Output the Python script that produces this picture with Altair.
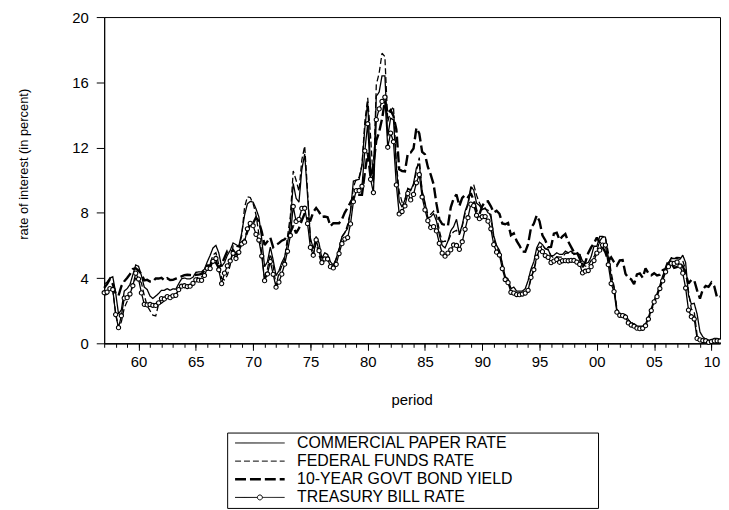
import altair as alt
import pandas as pd

# Quarterly observations, 1957Q1 .. 2010Q4
START_YEAR = 1957

commercial_paper = [
    3.63, 3.75, 4.00, 4.08,  3.10, 1.80, 2.05, 3.20,  3.35, 3.60, 4.20, 4.80,
    4.72, 4.15, 3.45, 3.30,  2.90, 2.75, 2.90, 3.05,  3.25, 3.25, 3.35, 3.25,
    3.34, 3.32, 3.65, 3.95,  4.00, 3.95, 3.95, 4.05,  4.35, 4.38, 4.38, 4.55,
    5.00, 5.40, 5.85, 6.00,  5.55, 4.70, 4.95, 5.40,  5.70, 6.15, 6.05, 5.95,
    6.75, 7.85, 8.55, 8.70,  8.65, 8.25, 7.75, 6.40,  4.70, 5.00, 5.90, 5.10,
    4.15, 4.45, 4.95, 5.30,  6.10, 7.40, 9.80, 8.90,  8.65, 10.65, 11.60, 9.05,
    6.45, 5.80, 6.55, 6.15,  5.20, 5.55, 5.45, 5.00,  4.80, 5.20, 5.75, 6.55,
    6.80, 7.05, 8.10, 9.95,  10.00, 10.05, 10.90, 13.20,  14.80, 10.70, 9.95, 15.15,
    15.40, 16.40, 16.40, 12.70,  13.80, 13.70, 10.90, 8.70,  8.35, 8.80, 9.50, 9.35,
    9.80, 10.75, 11.00, 9.35,  8.65, 7.70, 7.75, 7.95,  7.50, 6.65, 6.00, 5.85,
    6.25, 6.90, 7.15, 7.60,  6.70, 7.25, 8.10, 8.60,  9.60, 9.40, 8.60, 8.45,
    8.20, 8.30, 8.00, 7.90,  6.60, 6.00, 5.70, 4.90,  4.10, 3.95, 3.35, 3.45,
    3.20, 3.20, 3.20, 3.35,  3.85, 4.55, 5.00, 5.85,  6.20, 6.05, 5.80, 5.75,
    5.35, 5.40, 5.55, 5.45,  5.45, 5.65, 5.55, 5.65,  5.45, 5.50, 5.45, 5.05,
    4.90, 4.95, 5.30, 5.95,  5.95, 6.55, 6.55, 6.50,  5.25, 4.05, 3.40, 2.05,
    1.75, 1.80, 1.75, 1.45,  1.20, 1.20, 1.05, 1.05,  1.05, 1.20, 1.60, 2.15,
    2.65, 3.05, 3.55, 4.15,  4.55, 4.95, 5.20, 5.20,  5.20, 5.15, 5.40, 4.95,
    2.95, 2.40, 2.45, 1.80,  0.70, 0.40, 0.25, 0.20,  0.20, 0.30, 0.30, 0.25,
]

federal_funds = [
    2.96, 3.00, 3.23, 3.25,  1.86, 0.94, 1.32, 2.16,  2.57, 3.08, 3.58, 3.99,
    3.93, 3.70, 2.94, 2.30,  2.00, 1.73, 1.68, 2.40,  2.46, 2.61, 2.85, 2.92,
    2.97, 2.96, 3.33, 3.45,  3.46, 3.49, 3.46, 3.58,  3.97, 4.08, 4.07, 4.17,
    4.56, 4.91, 5.41, 5.56,  4.82, 3.99, 3.89, 4.17,  4.79, 5.98, 5.94, 5.92,
    6.57, 8.33, 8.98, 8.94,  8.57, 7.88, 6.70, 5.57,  3.86, 4.56, 5.47, 4.75,
    3.54, 4.30, 4.74, 5.14,  6.54, 7.82, 10.56, 10.00,  9.32, 11.25, 12.09, 9.35,
    6.30, 5.42, 6.16, 5.41,  4.83, 5.20, 5.28, 4.87,  4.66, 5.16, 5.82, 6.51,
    6.76, 7.28, 8.10, 9.58,  10.07, 10.18, 10.95, 13.58,  15.05, 12.69, 9.84, 15.85,
    16.57, 17.78, 17.58, 13.59,  14.23, 14.51, 11.01, 9.29,  8.65, 8.80, 9.46, 9.43,
    9.69, 10.56, 11.39, 9.27,  8.48, 7.92, 7.90, 8.10,  7.83, 6.92, 6.21, 6.27,
    6.22, 6.65, 6.84, 6.92,  6.66, 7.16, 7.98, 8.47,  9.44, 9.73, 9.08, 8.61,
    8.25, 8.24, 8.16, 7.74,  6.43, 5.86, 5.64, 4.82,  4.02, 3.77, 3.26, 3.04,
    3.04, 3.00, 3.06, 2.99,  3.21, 3.94, 4.49, 5.17,  5.81, 6.02, 5.80, 5.72,
    5.36, 5.24, 5.31, 5.28,  5.28, 5.52, 5.53, 5.51,  5.52, 5.50, 5.53, 4.86,
    4.73, 4.75, 5.09, 5.31,  5.68, 6.27, 6.52, 6.47,  5.59, 4.33, 3.50, 2.13,
    1.73, 1.75, 1.74, 1.44,  1.25, 1.25, 1.02, 1.00,  1.00, 1.01, 1.43, 1.95,
    2.47, 2.94, 3.46, 3.98,  4.46, 4.91, 5.25, 5.25,  5.26, 5.25, 5.07, 4.50,
    3.18, 2.09, 1.94, 0.51,  0.18, 0.18, 0.16, 0.12,  0.13, 0.19, 0.19, 0.19,
]

govt_bond_10y = [
    3.40, 3.63, 3.93, 3.63,  3.04, 2.92, 3.50, 3.80,  4.00, 4.24, 4.55, 4.60,
    4.46, 4.25, 3.86, 3.89,  3.79, 3.79, 3.98, 3.97,  4.02, 3.87, 3.99, 3.88,
    3.89, 3.96, 4.02, 4.10,  4.18, 4.20, 4.19, 4.17,  4.20, 4.21, 4.25, 4.47,
    4.77, 4.78, 5.14, 4.94,  4.63, 4.85, 5.25, 5.66,  5.59, 5.71, 5.46, 5.77,
    6.18, 6.35, 6.86, 7.30,  7.37, 7.71, 7.46, 6.85,  6.02, 6.25, 6.48, 5.89,
    6.03, 6.14, 6.29, 6.37,  6.60, 6.81, 7.21, 6.75,  7.05, 7.54, 7.96, 7.67,
    7.54, 8.05, 8.30, 8.06,  7.75, 7.77, 7.73, 7.19,  7.36, 7.37, 7.36, 7.60,
    8.01, 8.32, 8.64, 8.95,  9.11, 9.11, 9.10, 10.45,  11.69, 10.18, 10.95, 12.42,
    12.96, 13.75, 14.85, 14.09,  14.29, 13.93, 13.11, 10.67,  10.56, 10.54, 11.63, 11.69,
    11.94, 13.20, 12.87, 11.74,  11.58, 10.81, 10.34, 9.76,  8.56, 7.60, 7.31, 7.26,
    7.19, 8.34, 8.88, 9.12,  8.42, 8.91, 9.10, 8.96,  9.21, 8.77, 8.11, 7.91,
    8.42, 8.68, 8.70, 8.40,  8.02, 8.13, 7.94, 7.35,  7.30, 7.38, 6.62, 6.74,
    6.28, 5.99, 5.62, 5.61,  6.07, 7.08, 7.33, 7.84,  7.48, 6.62, 6.32, 5.89,
    5.91, 6.72, 6.78, 6.34,  6.56, 6.70, 6.24, 5.91,  5.59, 5.60, 5.20, 4.67,
    4.98, 5.54, 5.88, 6.14,  6.48, 6.18, 5.89, 5.57,  5.05, 5.27, 4.98, 4.77,
    5.08, 5.10, 4.26, 4.01,  3.92, 3.62, 4.23, 4.29,  4.02, 4.60, 4.30, 4.17,
    4.30, 4.16, 4.21, 4.49,  4.57, 5.07, 4.90, 4.63,  4.68, 4.85, 4.73, 4.26,
    3.66, 3.89, 3.86, 3.25,  2.74, 3.31, 3.52, 3.46,  3.72, 3.49, 2.79, 2.86,
]

treasury_bill = [
    3.10, 3.14, 3.35, 3.30,  1.76, 0.96, 1.69, 2.77,  2.80, 3.02, 3.53, 4.30,
    3.94, 3.09, 2.39, 2.36,  2.38, 2.33, 2.32, 2.48,  2.74, 2.72, 2.86, 2.80,
    2.91, 2.94, 3.29, 3.50,  3.53, 3.48, 3.50, 3.68,  3.89, 3.87, 3.86, 4.16,
    4.60, 4.58, 5.03, 5.20,  4.51, 3.66, 4.30, 4.75,  5.05, 5.52, 5.20, 5.58,
    6.09, 6.20, 7.02, 7.35,  7.21, 6.68, 6.33, 5.35,  3.84, 4.25, 5.01, 4.23,
    3.44, 3.75, 4.24, 4.85,  5.64, 6.61, 8.39, 7.47,  7.60, 8.27, 8.28, 7.34,
    5.88, 5.40, 6.34, 5.68,  4.95, 5.17, 5.17, 4.70,  4.62, 4.84, 5.50, 6.11,
    6.39, 6.48, 7.32, 8.68,  9.36, 9.37, 9.63, 11.80,  13.46, 10.05, 9.24, 13.71,
    14.37, 14.83, 15.09, 12.02,  12.89, 12.36, 9.71, 7.93,  8.08, 8.42, 9.19, 8.79,
    9.13, 9.84, 10.34, 8.97,  8.18, 7.52, 7.10, 7.15,  6.89, 6.13, 5.53, 5.34,
    5.53, 5.73, 6.03, 6.00,  5.76, 6.23, 6.99, 7.70,  8.53, 8.44, 7.85, 7.64,
    7.76, 7.77, 7.49, 7.02,  6.05, 5.59, 5.41, 4.58,  3.91, 3.72, 3.13, 3.08,
    2.99, 2.98, 3.02, 3.08,  3.25, 4.04, 4.51, 5.28,  5.78, 5.62, 5.38, 5.27,
    4.95, 5.04, 5.14, 4.97,  5.06, 5.07, 5.06, 5.09,  5.08, 4.98, 4.84, 4.32,
    4.42, 4.46, 4.70, 5.07,  5.53, 5.71, 6.02, 6.02,  4.82, 3.66, 3.17, 1.91,
    1.72, 1.70, 1.61, 1.25,  1.12, 1.05, 0.93, 0.90,  0.92, 1.08, 1.49, 2.01,
    2.54, 2.86, 3.36, 3.83,  4.38, 4.70, 4.91, 4.90,  4.98, 4.74, 4.30, 3.39,
    2.04, 1.63, 1.49, 0.30,  0.21, 0.17, 0.16, 0.06,  0.11, 0.15, 0.16, 0.14,
]

SERIES = ["COMMERCIAL PAPER RATE", "FEDERAL FUNDS RATE",
          "10-YEAR GOVT BOND YIELD", "TREASURY BILL RATE"]
DASHES = [[1, 0], [6, 3], [11, 4], [1, 0]]
Y_TICKS = [0, 4, 8, 12, 16, 20]
X_LABEL_YEARS = list(range(1960, 2011, 5))
X_MINOR_YEARS = list(range(1957, 2011))

rows = []
for name, vals in zip(SERIES, [commercial_paper, federal_funds, govt_bond_10y, treasury_bill]):
    for i, v in enumerate(vals):
        rows.append({"t": START_YEAR + i / 4.0, "rate": v, "series": name})
df = pd.DataFrame(rows)

FONT = "Liberation Sans"
x_scale = alt.Scale(domain=[1957, 2010.75], nice=False, zero=False)
y_scale = alt.Scale(domain=[0, 20], nice=False, zero=True)

y_enc = alt.Y(
    "rate:Q", scale=y_scale,
    axis=alt.Axis(values=Y_TICKS, tickSize=8, labelPadding=8, grid=False,
                  title="rate of interest (in percent)", titleFontSize=13,
                  titleFontWeight="normal", titleAngle=270, titleX=-81, titleY=148,
                  titleAlign="center", titleBaseline="middle",
                  labelFontSize=15, format="d"),
)

x_major = alt.X(
    "t:Q", scale=x_scale,
    axis=alt.Axis(values=X_LABEL_YEARS, orient="bottom", tickSize=7, labelPadding=4,
                  labelExpr="substring(toString(datum.value), 2)", labelFlush=False,
                  labelOverlap=False, grid=False, labelFontSize=15,
                  title="period", titleFontSize=15, titleFontWeight="normal",
                  titleX=310, titleY=62, titleBaseline="alphabetic", titleAlign="center"),
)
x_minor = alt.X(
    "t:Q", scale=x_scale,
    axis=alt.Axis(values=X_MINOR_YEARS, orient="bottom", tickSize=4, labels=False,
                  grid=False, title=None),
)

TB_SYMBOL = "M-5,0H-0.5M0.5,0H5M-0.5,0A0.5,0.5,0,1,1,0.5,0A0.5,0.5,0,1,1,-0.5,0"
LINE_SYMBOL = "M-5,0H5"

lines = alt.Chart(df).mark_line(color="black", strokeMiterLimit=2).encode(
    x=x_major,
    y=y_enc,
    strokeDash=alt.StrokeDash(
        "series:N",
        scale=alt.Scale(domain=SERIES, range=DASHES),
        sort=SERIES,
        legend=alt.Legend(
            title="\u00a0", titleOrient="right", titlePadding=83, titleFontSize=8,
            orient="none", legendX=124, legendY=419, direction="vertical",
            padding=2.5, strokeColor="black", fillColor="white",
            symbolSize=100, symbolOffset=22.5, labelOffset=29.5, rowPadding=2.3,
            labelFont=FONT, labelFontSize=16, labelColor="black", labelLimit=1000,
            symbolStrokeColor="black", symbolFillColor="white", symbolOpacity=1,
            symbolType=alt.ExprRef(
                expr=f"datum.value === 'TREASURY BILL RATE' ? '{TB_SYMBOL}' : '{LINE_SYMBOL}'"),
            symbolStrokeWidth=alt.ExprRef(
                expr="datum.value === '10-YEAR GOVT BOND YIELD' ? 2.5 : 1"),
        ),
    ),
    strokeWidth=alt.condition(alt.datum.series == "10-YEAR GOVT BOND YIELD",
                              alt.value(2.4), alt.value(1.3)),
)

points = alt.Chart(df).transform_filter(
    alt.datum.series == "TREASURY BILL RATE"
).mark_point(shape="circle", filled=True, fill="white", stroke="black",
             strokeWidth=1.1, size=18, opacity=1).encode(
    x=x_minor,
    y=y_enc,
)

chart = alt.layer(lines, points).resolve_axis(x="independent").properties(
    width=621, height=329,
    autosize=alt.AutoSizeParams(type="none"),
    padding={"left": 97, "top": 7, "right": 1, "bottom": 172},
).configure(
    font=FONT,
).configure_view(
    stroke="black", strokeWidth=1,
).configure_axis(
    domainColor="black", tickColor="black", labelColor="black", titleColor="black",
    labelFont=FONT, titleFont=FONT, domainWidth=1, tickWidth=1,
)

chart.save("out.html", embed_options={"renderer": "svg", "actions": False})
